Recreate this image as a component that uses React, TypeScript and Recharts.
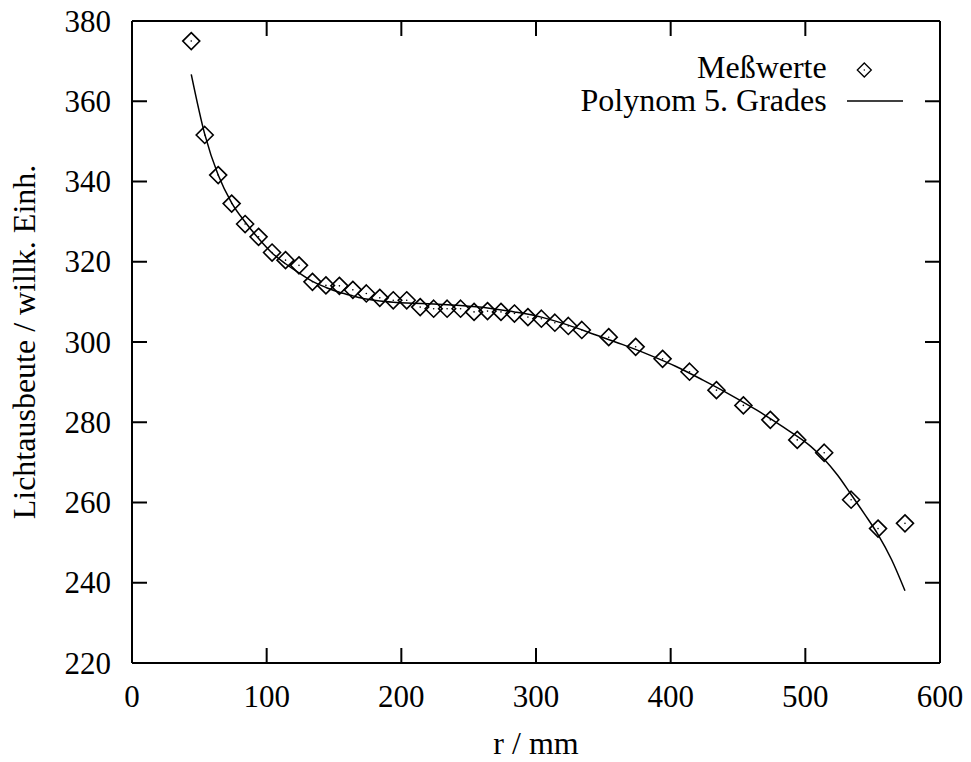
import React from 'react';
import {
  ComposedChart,
  Scatter,
  Line,
  XAxis,
  YAxis,
  Label,
  ReferenceLine,
  Customized,
} from 'recharts';

// Measured values (Meßwerte)
const measR = [
  44, 54, 64, 74, 84, 94, 104, 114, 124, 134, 144, 154, 164, 174, 184, 194, 204, 214, 224, 234,
  244, 254, 264, 274, 284, 294, 304, 314, 324, 334, 354, 374, 394, 414, 434, 454, 474, 494, 514,
  534, 554, 574,
];
const measV = [
  375.0, 351.6, 341.6, 334.5, 329.4, 326.2, 322.3, 320.4, 319.1, 315.0, 314.1, 314.0, 313.0, 312.1,
  311.0, 310.4, 310.4, 308.7, 308.3, 308.3, 308.3, 307.5, 307.7, 307.5, 307.1, 306.2, 305.8, 304.8,
  304.0, 303.0, 301.2, 298.8, 295.8, 292.6, 288.0, 284.2, 280.6, 275.6, 272.4, 260.7, 253.5, 254.8,
];

// Fitted curve (Polynom 5. Grades)
const fitR = [
  44, 54, 64, 74, 84, 94, 104, 114, 124, 134, 144, 154, 164, 174, 184, 194, 204, 224, 244, 264,
  284, 304, 324, 344, 364, 384, 404, 424, 444, 464, 484, 504, 514, 524, 534, 544, 554, 564, 574,
];
const fitV = [
  366.7, 351.8, 341.6, 334.7, 329.9, 325.8, 322.2, 319.5, 317.2, 315.1, 313.6, 312.4, 311.5, 310.7,
  310.2, 309.9, 309.7, 309.5, 309.1, 308.5, 307.5, 306.2, 304.2, 301.8, 299.4, 296.8, 293.9, 290.5,
  286.9, 283.0, 278.7, 274.0, 270.8, 266.8, 262.0, 257.1, 252.0, 245.8, 238.0,
];

const xTicks = [0, 100, 200, 300, 400, 500, 600];
const yTicks = [220, 240, 260, 280, 300, 320, 340, 360, 380];

const measData = measR.map((r, i) => ({ r, v: measV[i] }));
const fitData = fitR.map((r, i) => ({ r, v: fitV[i] }));

const FONT = '"Liberation Serif", "Times New Roman", serif';
const TICK_FS = 31;
const FS = 32;
const TL = 15; // inward tick length

const Diamond = (props: any) => {
  const { cx, cy } = props;
  if (cx == null || cy == null) return <g />;
  const h = 8.5;
  return (
    <g>
      <polygon
        points={`${cx},${cy - h} ${cx + h},${cy} ${cx},${cy + h} ${cx - h},${cy}`}
        fill="none"
        stroke="#000"
        strokeWidth={1.6}
      />
      <circle cx={cx} cy={cy} r={0.8} fill="#000" />
    </g>
  );
};

// inward tick marks at both ends of a vertical reference line
const VTicks = (p: any) => {
  const x = p.x1;
  const top = Math.min(p.y1, p.y2);
  const bot = Math.max(p.y1, p.y2);
  return (
    <g>
      <line x1={x} y1={bot} x2={x} y2={bot - TL} stroke="#000" strokeWidth={2} />
      <line x1={x} y1={top} x2={x} y2={top + TL} stroke="#000" strokeWidth={2} />
    </g>
  );
};
// inward tick marks at both ends of a horizontal reference line
const HTicks = (p: any) => {
  const y = p.y1;
  const left = Math.min(p.x1, p.x2);
  const right = Math.max(p.x1, p.x2);
  return (
    <g>
      <line x1={left} y1={y} x2={left + TL} y2={y} stroke="#000" strokeWidth={2} />
      <line x1={right} y1={y} x2={right - TL} y2={y} stroke="#000" strokeWidth={2} />
    </g>
  );
};

const BottomTick = (p: any) => (
  <text x={p.x} y={p.y + 44} textAnchor="middle" fontFamily={FONT} fontSize={TICK_FS} fill="#000">
    {p.payload.value}
  </text>
);
const LeftTick = (p: any) => (
  <text x={p.x - 21} y={p.y + 10.5} textAnchor="end" fontFamily={FONT} fontSize={TICK_FS} fill="#000">
    {p.payload.value}
  </text>
);

const LegendBox = () => {
  const h = 7;
  const dx = 864.3;
  const dy = 70;
  return (
    <g fontFamily={FONT} fontSize={FS} fill="#000">
      <text x={826.7} y={78.3} textAnchor="end">
        Meßwerte
      </text>
      <polygon
        points={`${dx},${dy - h} ${dx + h},${dy} ${dx},${dy + h} ${dx - h},${dy}`}
        fill="none"
        stroke="#000"
        strokeWidth={1.3}
      />
      <circle cx={dx} cy={dy} r={0.7} fill="#000" />
      <text x={826.7} y={110.7} textAnchor="end">
        Polynom 5. Grades
      </text>
      <line x1={847} y1={101} x2={903} y2={101} stroke="#000" strokeWidth={1.5} />
    </g>
  );
};

const axisLine = { stroke: '#000', strokeWidth: 2 };

export default function App() {
  return (
    <div style={{ position: 'absolute', left: 0, top: 0, width: 971, height: 762, background: '#fff' }}>
      <ComposedChart
        width={971}
        height={762}
        margin={{ top: 21, right: 31, bottom: 49, left: 72 }}
      >
        <XAxis
          xAxisId="b"
          dataKey="r"
          type="number"
          domain={[0, 600]}
          ticks={xTicks}
          interval={0}
          height={50}
          tickSize={0}
          tickMargin={0}
          tickLine={false}
          tick={BottomTick}
          axisLine={axisLine}
          allowDataOverflow
        >
          <Label
            content={(p: any) => {
              const vb = p.viewBox;
              return (
                <text
                  x={vb.x + vb.width / 2}
                  y={vb.y + 90.5}
                  textAnchor="middle"
                  fontFamily={FONT}
                  fontSize={FS}
                  fill="#000"
                >
                  r / mm
                </text>
              );
            }}
          />
        </XAxis>
        <YAxis
          yAxisId="l"
          dataKey="v"
          type="number"
          domain={[220, 380]}
          ticks={yTicks}
          interval={0}
          width={60}
          tickSize={0}
          tickMargin={0}
          tickLine={false}
          tick={LeftTick}
          axisLine={axisLine}
          allowDataOverflow
        >
          <Label
            content={(p: any) => {
              const vb = p.viewBox;
              const x = vb.x - 37.5;
              const y = vb.y + vb.height / 2;
              return (
                <text
                  x={x}
                  y={y}
                  transform={`rotate(-90, ${x}, ${y})`}
                  textAnchor="middle"
                  fontFamily={FONT}
                  fontSize={FS}
                  fill="#000"
                >
                  Lichtausbeute / willk. Einh.
                </text>
              );
            }}
          />
        </YAxis>

        {/* top and right frame */}
        <ReferenceLine xAxisId="b" yAxisId="l" y={380} stroke="#000" strokeWidth={2} ifOverflow="visible" />
        <ReferenceLine xAxisId="b" yAxisId="l" x={600} stroke="#000" strokeWidth={2} ifOverflow="visible" />

        {/* inward ticks on all four sides */}
        {xTicks.map((t) => (
          <ReferenceLine
            key={`xt${t}`}
            xAxisId="b"
            yAxisId="l"
            x={t}
            ifOverflow="visible"
            shape={VTicks}
          />
        ))}
        {yTicks.map((t) => (
          <ReferenceLine
            key={`yt${t}`}
            xAxisId="b"
            yAxisId="l"
            y={t}
            ifOverflow="visible"
            shape={HTicks}
          />
        ))}

        <Line
          xAxisId="b"
          yAxisId="l"
          data={fitData}
          dataKey="v"
          type="monotone"
          stroke="#000"
          strokeWidth={1.5}
          dot={false}
          activeDot={false}
          isAnimationActive={false}
        />
        <Scatter
          xAxisId="b"
          yAxisId="l"
          data={measData}
          dataKey="v"
          shape={Diamond}
          isAnimationActive={false}
        />
        <Customized component={LegendBox} />
      </ComposedChart>
    </div>
  );
}
